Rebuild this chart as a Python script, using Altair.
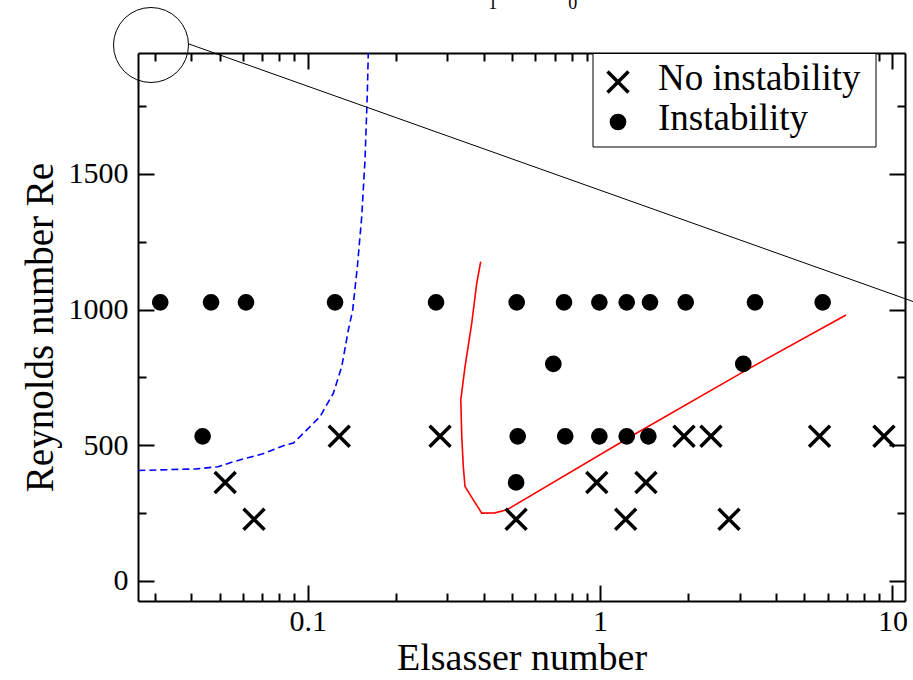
import altair as alt
import pandas as pd

# ---- runs without instability (crosses) ----
stable_E = [0.1282, 0.2835, 1.936, 2.394, 5.63, 9.35,
            0.0522, 0.974, 1.435,
            0.0655, 0.516, 1.223, 2.76]
stable_Re = [533, 533, 533, 533, 533, 533,
             363, 363, 363,
             227, 227, 227, 227]

# ---- runs with instability (filled dots) ----
unstable_E = [0.0313, 0.0467, 0.0615, 0.124, 0.2747, 0.5186, 0.7525, 0.994,
              1.233, 1.481, 1.962, 3.386, 5.77,
              0.0437, 0.5226, 0.7598, 0.994, 1.233, 1.462,
              0.6918, 3.088,
              0.516]
unstable_Re = [1027, 1027, 1027, 1027, 1027, 1027, 1027, 1027,
               1027, 1027, 1027, 1027, 1027,
               533, 533, 533, 533, 533, 533,
               800, 800,
               363]

# ---- stability boundaries ----
blue_E = [0.02634, 0.03045, 0.04173, 0.0493, 0.0555, 0.0703, 0.0837, 0.0893,
          0.0966, 0.1102, 0.1224, 0.1307, 0.1377, 0.1425, 0.1478, 0.1530,
          0.1570, 0.1599, 0.1611]
blue_Re = [407, 409, 413, 421, 439, 469, 501, 508, 544, 606, 692, 790, 925,
           999, 1158, 1343, 1552, 1798, 1946]

red_E = [0.3905, 0.3784, 0.3639, 0.3451, 0.3338, 0.3364, 0.3405, 0.3451,
         0.3683, 0.3936, 0.437, 0.4793, 1.299, 3.172, 6.934]
red_Re = [1177, 1097, 950, 790, 667, 532, 421, 348, 299, 250, 251, 262,
          538, 778, 980]

kinds = ["No instability", "Instability"]

x_major = [0.1, 1, 10]
x_minor = [0.03, 0.04, 0.05, 0.06, 0.07, 0.08, 0.09,
           0.2, 0.3, 0.4, 0.5, 0.6, 0.7, 0.8, 0.9,
           2, 3, 4, 5, 6, 7, 8, 9]
y_major = [0, 500, 1000, 1500]
y_minor = [250, 750, 1250, 1750]

W, H = 767, 548
FONT = "Liberation Serif"
# an "x" drawn as two strokes; the circle uses the same symbol size
X_SHAPE = "M-1.59,-1.59L1.59,1.59M-1.59,1.59L1.59,-1.59"
SYMBOL_SIZE = 174
SYMBOL_STROKE = 3.5

points = pd.DataFrame({
    "E": stable_E + unstable_E,
    "Re": stable_Re + unstable_Re,
    "kind": [kinds[0]] * len(stable_E) + [kinds[1]] * len(unstable_E),
})
blue = pd.DataFrame({"E": blue_E, "Re": blue_Re, "i": range(len(blue_E))})
red = pd.DataFrame({"E": red_E, "Re": red_Re, "i": range(len(red_E))})
one = pd.DataFrame({"k": [0]})

xscale = alt.Scale(type="log", domain=[0.02627, 11.035], nice=False)
yscale = alt.Scale(domain=[-74, 1946], nice=False, zero=False)
shape_scale = alt.Scale(domain=kinds, range=[X_SHAPE, "circle"])


def tick_axis(orient, values, size, offset, domain=False):
    return alt.Axis(orient=orient, values=values, offset=offset, ticks=True,
                    tickSize=size, tickColor="black", tickWidth=2,
                    labels=False, domain=domain, domainColor="black",
                    domainWidth=2, title=None, grid=False)


x_label_axis = alt.Axis(orient="bottom", values=x_major, ticks=False, tickSize=0,
                        domain=True, domainColor="black", domainWidth=2,
                        labelExpr="'' + datum.value", labelFont=FONT,
                        labelFontSize=30, labelColor="black", labelPadding=5,
                        title="Elsasser number", titleFont=FONT,
                        titleFontSize=38, titleFontWeight="normal",
                        titleColor="black", titlePadding=3, grid=False)
y_label_axis = alt.Axis(orient="left", values=y_major, ticks=False, tickSize=0,
                        domain=True, domainColor="black", domainWidth=2,
                        format="d", labelFont=FONT, labelFontSize=30,
                        labelColor="black", labelPadding=10,
                        title="Reynolds number Re", titleFont=FONT,
                        titleFontSize=39, titleFontWeight="normal",
                        titleColor="black", titlePadding=8, grid=False)

# stability boundary, dashed blue
blue_line = alt.Chart(blue).mark_line(
    color="#0000ff", strokeWidth=1.6, strokeDash=[7, 4], clip=True
).encode(
    x=alt.X("E:Q", scale=xscale, axis=x_label_axis),
    y=alt.Y("Re:Q", scale=yscale, axis=y_label_axis),
    order="i:Q",
)

# stability boundary, solid red
red_line = alt.Chart(red).mark_line(
    color="#ff0000", strokeWidth=1.6, clip=True
).encode(
    x=alt.X("E:Q", scale=xscale, axis=tick_axis("top", x_major, 16, -H)),
    y=alt.Y("Re:Q", scale=yscale, axis=tick_axis("right", y_major, 16, -W)),
    order="i:Q",
)

runs = alt.Chart(points).mark_point(
    filled=False, color="black", fill="black", stroke="black",
    strokeWidth=SYMBOL_STROKE, size=SYMBOL_SIZE, opacity=1, fillOpacity=1
).encode(
    x=alt.X("E:Q", scale=xscale, axis=tick_axis("top", x_minor, 8, -H)),
    y=alt.Y("Re:Q", scale=yscale, axis=tick_axis("right", y_minor, 8, -W)),
    shape=alt.Shape("kind:N", scale=shape_scale, legend=None),
)

# frame ticks on the top and right edges
frame_major = alt.Chart(blue).mark_point(opacity=0).encode(
    x=alt.X("E:Q", scale=xscale, axis=tick_axis("bottom", x_major, 16, -H, True)),
    y=alt.Y("Re:Q", scale=yscale, axis=tick_axis("left", y_major, 16, -W, True)),
)
frame_minor = alt.Chart(blue).mark_point(opacity=0).encode(
    x=alt.X("E:Q", scale=xscale, axis=tick_axis("bottom", x_minor, 8, -H)),
    y=alt.Y("Re:Q", scale=yscale, axis=tick_axis("left", y_minor, 8, -W)),
)

# legend box in the upper right corner
legend_box = alt.Chart(one).mark_rect(
    fill="white", stroke="black", strokeWidth=1
).encode(x=alt.value(455), x2=alt.value(738), y=alt.value(0.5), y2=alt.value(94))
legend_entries = []
for row, kind in enumerate(kinds):
    legend_entries.append(
        alt.Chart(one).mark_point(
            shape=shape_scale.range[row], size=SYMBOL_SIZE, filled=False,
            fill="black", stroke="black", strokeWidth=SYMBOL_STROKE,
            opacity=1, fillOpacity=1
        ).encode(x=alt.value(480), y=alt.value(29 + 40 * row))
    )
    legend_entries.append(
        alt.Chart(one).mark_text(
            font=FONT, fontSize=37, align="left", baseline="alphabetic",
            color="black"
        ).encode(x=alt.value(520), y=alt.value(37 + 40 * row), text=alt.value(kind))
    )

# zoom marker: circle in the corner and its pointer line
ring = alt.Chart(one).mark_point(
    shape="circle", size=5625, filled=False, stroke="black", strokeWidth=1,
    opacity=1, clip=False
).encode(x=alt.value(13), y=alt.value(-8))
pointer = alt.Chart(one).mark_rule(color="black", strokeWidth=1, clip=False).encode(
    x=alt.value(51), y=alt.value(-9), x2=alt.value(775), y2=alt.value(248.5)
)
top_one = alt.Chart(one).mark_text(
    font=FONT, fontSize=18, baseline="alphabetic", align="center", color="black"
).encode(x=alt.value(354.7), y=alt.value(-44), text=alt.value("1"))
top_zero = alt.Chart(one).mark_text(
    font=FONT, fontSize=18, baseline="alphabetic", align="center", color="black"
).encode(x=alt.value(434.7), y=alt.value(-44), text=alt.value("0"))

chart = alt.layer(
    frame_minor, frame_major, blue_line, red_line, runs,
    ring, pointer, top_one, top_zero, legend_box, *legend_entries
).resolve_axis(
    x="independent", y="independent"
).properties(
    width=W, height=H,
    autosize=alt.AutoSizeParams(type="none"),
    padding={"left": 138, "top": 53, "right": 8, "bottom": 79},
    background="white",
).configure_view(stroke=None)

chart.save("out.html", embed_options={"renderer": "svg", "actions": False})
